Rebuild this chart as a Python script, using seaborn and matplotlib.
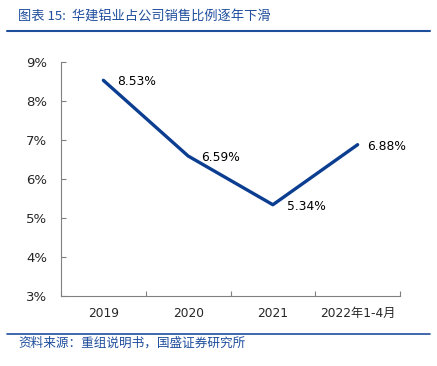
import matplotlib
matplotlib.use("Agg")
import matplotlib.pyplot as plt
import seaborn as sns
import pandas as pd
from matplotlib.lines import Line2D

categories = ["2019", "2020", "2021", "2022年1-4月"]
values = [8.53, 6.59, 5.34, 6.88]
labels = ["8.53%", "6.59%", "5.34%", "6.88%"]
yticks = [3, 4, 5, 6, 7, 8, 9]

sns.set_style("white")
plt.rcParams['font.family'] = ['DejaVu Sans', 'Noto Sans CJK SC']

df = pd.DataFrame({"cat": categories, "val": values})

fig = plt.figure(figsize=(4.37, 3.66), dpi=100)
ax = fig.add_axes([61/437, 1-296/366, (400-61)/437, (296-62)/366])

color = "#0B3D91"
sns.lineplot(data=df, x="cat", y="val", ax=ax, color=color, linewidth=2.4, sort=False)

ax.set_xlim(-0.5, 3.5)
ax.set_ylim(3, 9)
ax.set_yticks(yticks)
ax.set_yticklabels([f"{t}%" for t in yticks])
ax.set_xticks([-0.5, 0.5, 1.5, 2.5, 3.5], minor=False)
ax.set_xticklabels([])
ax.set_xticks(range(len(categories)), minor=True)
ax.set_xticklabels(categories, minor=True)
ax.tick_params(axis='x', which='minor', bottom=False, length=0, pad=8, labelsize=8.8)
ax.tick_params(axis='x', which='major', bottom=True, length=3.5, color="#808080", direction='in', width=0.8)
ax.tick_params(axis='y', left=True, length=3.5, color="#808080", direction='in', width=0.8, labelsize=9.5, pad=10)
for lab in ax.get_yticklabels():
    lab.set_horizontalalignment('right')
ax.set_xlabel("")
ax.set_ylabel("")
for s in ["top", "right"]:
    ax.spines[s].set_visible(False)
for s in ["left", "bottom"]:
    ax.spines[s].set_color("#808080")
    ax.spines[s].set_linewidth(0.8)

offsets = [(10, -1), (9.5, -1), (10, -1), (6.5, -1)]
for i, (v, l) in enumerate(zip(values, labels)):
    dx, dy = offsets[i]
    ax.annotate(l, (i, v), xytext=(dx, dy), textcoords='offset points', ha='left', va='center',
                fontsize=8.8, color="black")

title_color = "#1F4E9C"
fig.text(18/437, 1-16/366, "图表 15:  华建铝业占公司销售比例逐年下滑", fontsize=9.5, color=title_color,
         style='italic', va='center', ha='left', family=['Noto Sans CJK SC', 'DejaVu Sans'])
fig.add_artist(Line2D([7/437, 430/437], [1-31/366, 1-31/366], color="#1F4E9C", linewidth=1.5))
fig.add_artist(Line2D([7/437, 430/437], [1-334/366, 1-334/366], color="#1F4E9C", linewidth=1.2))
fig.text(18/437, 1-343/366, "资料来源：重组说明书，国盛证券研究所", fontsize=9.1, color=title_color,
         style='italic', va='center', ha='left', family=['Noto Sans CJK SC', 'DejaVu Sans'])

fig.savefig("out.png", dpi=100)
